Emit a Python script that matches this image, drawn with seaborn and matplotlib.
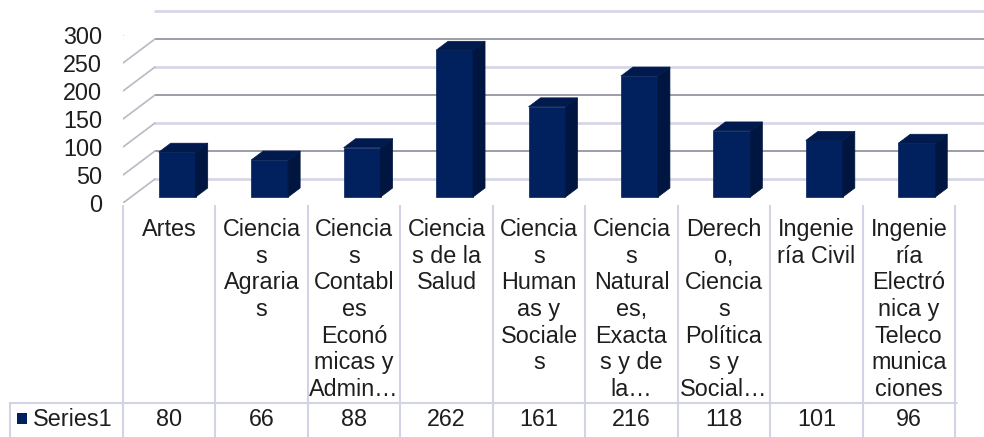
import numpy as np
import matplotlib
matplotlib.use("Agg")
import matplotlib.pyplot as plt
import seaborn as sns
from matplotlib.patches import Polygon, Rectangle
from matplotlib.lines import Line2D
from matplotlib.transforms import ScaledTranslation, blended_transform_factory, IdentityTransform

# labels as wrapped in the reference table
categories = [
    "Artes",
    "Ciencia\ns\nAgraria\ns",
    "Ciencia\ns\nContabl\nes\nEconó\nmicas y\nAdmin…",
    "Ciencia\ns de la\nSalud",
    "Ciencia\ns\nHuman\nas y\nSociale\ns",
    "Ciencia\ns\nNatural\nes,\nExacta\ns y de\nla…",
    "Derech\no,\nCiencia\ns\nPolítica\ns y\nSocial…",
    "Ingenie\nría Civil",
    "Ingenie\nría\nElectró\nnica y\nTeleco\nmunica\nciones",
]
values = [80, 66, 88, 262, 161, 216, 118, 101, 96]
series_name = "Series1"
yticks = [0, 50, 100, 150, 200, 250, 300]

front_col = "#01205e"
side_col = "#00153f"
top_col = "#011a4e"
txt_col = "#1e1e1e"
fs = 16.8

sns.set_style("white")
plt.rcParams['font.family'] = ['Liberation Sans', 'DejaVu Sans']

W, H = 984, 437
fig = plt.figure(figsize=(W / 100, H / 100), dpi=100)
ax = fig.add_axes([123 / W, 234 / H, 832 / W, 168 / H])

sns.barplot(x=list(range(len(values))), y=values, ax=ax, color=front_col,
            saturation=1, width=0.4, zorder=3, edgecolor=front_col, linewidth=0.5)
ax.set_xlim(-0.5, len(values) - 0.5)
ax.set_ylim(0, 300)
for s in ax.spines.values():
    s.set_visible(False)
ax.set_yticks(yticks)
ax.set_yticklabels([str(v) for v in yticks], fontsize=fs, color=txt_col)
ax.tick_params(axis='y', length=0, pad=15)
ax.set_xticks(range(len(categories)))
ax.set_xticklabels(categories, fontsize=fs, color=txt_col, linespacing=1.2, va='top')
ax.tick_params(axis='x', length=0, pad=11)
ax.set_xlabel("")
ax.set_ylabel("")
ax.patch.set_alpha(0)

# depth offsets in pixels (wall depth and bar position inside it)
wall_dx, wall_dy = 32, 24
bf_dx, bf_dy = 8, 6
bb_dx, bb_dy = 20, 15

ident = IdentityTransform()
back = ax.transData + ScaledTranslation(wall_dx / 100, wall_dy / 100, fig.dpi_scale_trans)

# back wall gridlines and side wall diagonals
for v in yticks:
    dark = v in (50, 150, 250)
    ax.plot([-0.5, len(values) - 0.5], [v, v], transform=back, clip_on=False,
            color="#8c8c9a" if dark else "#d6d6e6", lw=1.2 if dark else 2.0, zorder=0)
    x0, y0 = ax.transData.transform((-0.5, v))
    ax.add_artist(Line2D([x0, x0 + wall_dx], [y0, y0 + wall_dy], transform=ident,
                         color="#b9b9c4", lw=1.2, zorder=0))

# 3d bars: shift front faces and add side/top faces
bar_shift = ax.transData + ScaledTranslation(bf_dx / 100, bf_dy / 100, fig.dpi_scale_trans)
for p in list(ax.patches):
    x = p.get_x()
    w = p.get_width()
    h = p.get_height()
    (xl, yb) = ax.transData.transform((x, 0))
    (xr, yt) = ax.transData.transform((x + w, h))
    xl += bf_dx; xr += bf_dx; yb += bf_dy; yt += bf_dy
    ddx, ddy = bb_dx - bf_dx, bb_dy - bf_dy
    p.set_transform(bar_shift)
    side = Polygon([(xr, yb), (xr, yt), (xr + ddx, yt + ddy), (xr + ddx, yb + ddy)],
                   closed=True, transform=ident, facecolor=side_col, edgecolor=side_col,
                   lw=0.5, zorder=3)
    top = Polygon([(xl, yt), (xr, yt), (xr + ddx, yt + ddy), (xl + ddx, yt + ddy)],
                  closed=True, transform=ident, facecolor=top_col, edgecolor=top_col,
                  lw=0.5, zorder=3)
    ax.add_artist(side)
    ax.add_artist(top)

# data table below the chart
line_col = "#d3d3e6"
bt = blended_transform_factory(ax.transData, fig.transFigure)
bounds = np.arange(len(values) + 1) - 0.5
ax.vlines(bounds, 0, 1 - 205 / H, transform=bt, colors=line_col, lw=1.5, clip_on=False)
fig.add_artist(Line2D([10 / W, 957 / W], [1 - 403 / H] * 2, color=line_col, lw=1.5))
fig.add_artist(Line2D([10 / W, 10 / W], [0, 1 - 403 / H], color=line_col, lw=1.5))
row_y = 1 - 419 / H
for i, v in enumerate(values):
    ax.text(i, row_y, str(v), transform=bt, ha='center', va='center', fontsize=fs,
            color=txt_col, clip_on=False)
fig.add_artist(Rectangle((17 / W, 1 - 424 / H), 10 / W, 11 / H, transform=fig.transFigure,
                         facecolor=front_col, edgecolor='none'))
fig.text(33 / W, row_y, series_name, ha='left', va='center', fontsize=fs, color=txt_col)

fig.savefig("out.png", dpi=100)
